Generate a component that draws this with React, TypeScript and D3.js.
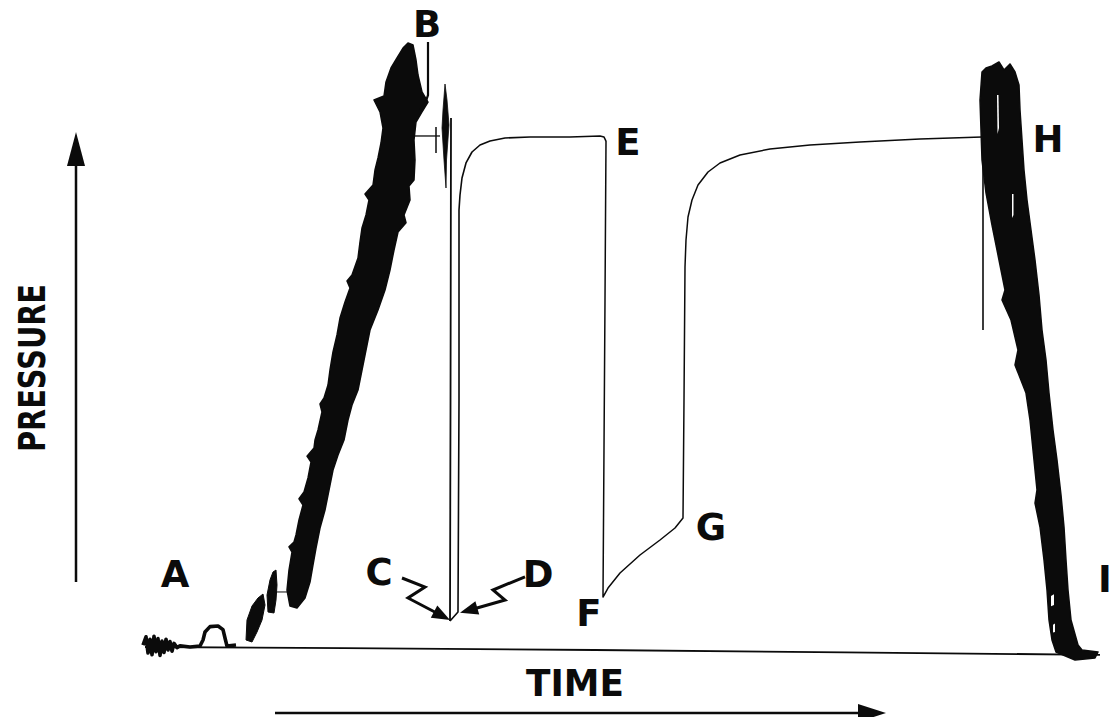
import React from "react";
import * as d3 from "d3";

type Pt = [number, number];

// Time axis in arbitrary units, pressure in percent of gauge full scale.
const zeroLine: Pt[] = [[0, 0.5], [20, 0.3], [45, 0], [70, -0.4], [95.5, -0.8]];

// Initial hydrostatic noise near A, including the small hump
const preTest: Pt[] = [
  [-0.2, 0.83], [0.1, 2.2], [0.3, -0.5], [0.5, 1.8], [0.7, -0.8], [0.9, 2.3], [1.1, -0.3], [1.3, 1.9],
  [1.5, -0.9], [1.7, 1.5], [1.9, -0.4], [2.1, 1.8], [2.3, 0], [2.5, 1.4], [2.7, -0.2], [2.9, 1.1],
  [3.2, 0.4], [3.5, 0.7], [4.5, 0.5], [5.5, 0.67], [5.8, 1.67], [6.0, 3.0], [6.5, 3.9], [7.3, 4.0],
  [7.8, 3.4], [8.0, 2.0], [8.2, 0.67], [9.1, 0.83],
];

// Scattered early run-in marks
const runInBlobA: Pt[] = [
  [12.3, 6.33], [12.2, 9.17], [12.5, 11.67], [12.8, 13.0], [13.1, 13.33], [13.2, 10.83], [13.1, 8.33], [12.9, 6.17],
];
const runInBlobB: Pt[] = [
  [10.1, 1.67], [10.2, 5.0], [10.7, 7.33], [11.3, 8.67], [11.8, 9.33], [12.0, 7.5], [11.7, 5.0], [11.2, 3.0], [10.7, 1.33],
];
const runInLink: Pt[] = [[13.2, 9.67], [14.3, 9.67]];

// Running-in build-up band A -> B (left edge upward, right edge downward)
const runInBand: Pt[] = [
  [14.5, 7.33], [14.2, 10.0], [14.4, 13.33], [14.7, 16.33], [14.4, 17.2], [14.9, 18.0], [15.1, 19.17],
  [15.4, 21.67], [15.8, 24.17], [15.4, 25.2], [15.9, 26.33], [16.3, 28.67], [16.6, 31.33], [16.2, 32.3],
  [16.9, 33.67], [17.0, 35.0], [17.3, 36.67], [17.7, 39.67], [17.5, 41.0], [17.9, 42.0], [18.3, 44.17],
  [18.5, 46.67], [18.8, 49.67], [19.2, 52.5], [19.5, 55.33], [20.0, 58.0], [20.5, 60.33], [20.2, 61.5],
  [20.7, 62.5], [21.3, 65.33], [21.5, 68.0], [21.7, 70.33], [22.1, 72.5], [22.4, 75.0], [22.0, 76.0],
  [22.8, 77.5], [23.0, 80.0], [23.3, 82.0], [23.6, 84.5], [23.8, 87.0], [23.5, 89.67], [22.9, 91.67],
  [23.9, 92.33], [24.1, 94.67], [24.6, 97.0], [25.2, 98.67], [25.8, 100.33], [26.3, 101.17],
  [26.8, 100.83], [27.1, 98.33], [27.3, 95.83], [27.7, 93.0], [28.3, 91.33], [27.7, 89.67], [27.1, 88.0],
  [26.9, 85.0], [27.0, 81.67], [26.9, 78.33], [26.4, 77.33], [26.5, 75.0], [25.9, 72.5], [26.1, 71.2],
  [25.3, 69.67], [24.9, 66.67], [24.5, 63.33], [24.0, 60.0], [23.3, 56.67], [22.5, 53.33], [22.1, 50.0],
  [21.7, 46.67], [21.3, 43.33], [20.7, 40.83], [20.3, 38.33], [19.9, 35.0], [19.3, 32.5], [18.8, 30.0],
  [18.4, 26.67], [18.0, 23.33], [17.5, 20.33], [17.1, 17.0], [16.8, 14.17], [16.5, 11.33], [16.0, 8.67],
  [15.2, 7.0],
];

// Thin spike and marks at the top of the build-up
const topSpike: Pt[] = [
  [30.0, 94.33], [29.8, 90.0], [29.7, 87.0], [29.9, 81.67], [30.1, 77.0], [30.15, 81.67], [30.4, 87.5], [30.2, 91.67],
];
const topTick: Pt[] = [[26.8, 85.67], [29.5, 85.67]];
const topTickBar: Pt[] = [[29.1, 87.17], [29.1, 82.83]];
const pointerB: Pt[] = [[28.3, 101.33], [28.3, 92.5], [28.0, 91.0], [27.5, 90.0]];

// B -> C: tool opened, pressure drop
const dropBC: Pt[] = [[30.6, 88.67], [30.55, 40], [30.5, 4.83]];

// C -> D -> E: first flow and initial shut-in build-up
const flowDE: Pt[] = [
  [30.5, 4.83], [31.3, 6.33], [31.4, 41.67], [31.4, 73.33], [31.5, 75.83], [31.7, 78.67], [32.1, 81.17],
  [32.7, 83.0], [33.5, 84.17], [34.5, 84.83], [36.0, 85.33], [38.5, 85.5], [42.5, 85.5], [45.5, 85.67],
  [45.9, 85.5], [46.1, 84.83],
];

// E -> F -> G -> H: second flow period and final shut-in
const flowFH: Pt[] = [
  [46.1, 84.83], [46.0, 58.33], [45.8, 8.83], [46.3, 10.33], [47.5, 12.83], [49.5, 15.83], [51.5, 18.33],
  [53.0, 20.33], [53.8, 22.0], [53.9, 41.67], [54.0, 63.83], [54.1, 68.33], [54.3, 72.17], [54.7, 75.0],
  [55.3, 77.5], [56.3, 79.67], [57.5, 81.17], [59.5, 82.5], [62.5, 83.5], [66.5, 84.17], [71.5, 84.67],
  [77.5, 85.17], [83.7, 85.5],
];
const dropH: Pt[] = [[83.8, 85.5], [83.8, 53.33]];

// Pulling out H -> I band
const pullOutBand: Pt[] = [
  [83.7, 96.33], [83.5, 91.67], [83.6, 86.67], [83.7, 81.67], [84.1, 76.17], [84.7, 70.83], [85.4, 65.0],
  [86.0, 60.0], [85.7, 58.33], [86.6, 55.0], [87.3, 50.0], [87.0, 47.5], [88.1, 42.83], [88.5, 38.33],
  [88.8, 33.33], [89.2, 26.67], [89.0, 24.5], [89.5, 20.5], [89.9, 15.0], [90.2, 10.0], [90.4, 5.0],
  [90.7, 1.67], [91.1, -0.33], [93.0, -1.67], [95.0, -1.33], [95.3, -0.33], [93.7, 0],
  [93.3, 0.83], [92.6, 5.0], [92.3, 10.0], [92.1, 15.0], [91.9, 20.5], [91.6, 25.83], [91.2, 31.67],
  [90.8, 36.67], [90.4, 42.83], [90.1, 48.33], [89.7, 53.33], [89.4, 59.17], [89.0, 65.0], [88.6, 70.0],
  [88.2, 75.0], [87.9, 80.0], [87.7, 85.0], [87.5, 90.0], [87.4, 94.17], [87.0, 96.33], [86.5, 97.67],
  [85.9, 96.67], [85.4, 98.0], [84.7, 97.33], [84.1, 97.0],
];
const pullOutGaps: Pt[][] = [
  [[85.2, 92.5], [85.35, 92.5], [85.4, 87.0], [85.25, 86.0]],
  [[86.7, 76.0], [86.85, 76.0], [86.85, 72.5], [86.7, 72.0]],
  [[90.6, 9.0], [90.9, 9.3], [90.9, 7.5], [90.6, 7.3]],
  [[90.8, 4.2], [91.0, 4.4], [91.0, 3.0], [90.8, 2.9]],
];

// Event letters placed at time / pressure coordinates
const eventLabels: { text: string; t: number; p: number; anchor: string }[] = [
  { text: "A", t: 3.0, p: 10.5, anchor: "middle" },
  { text: "B", t: 28.2, p: 102.2, anchor: "middle" },
  { text: "C", t: 23.4, p: 10.8, anchor: "middle" },
  { text: "D", t: 39.3, p: 10.5, anchor: "middle" },
  { text: "E", t: 48.3, p: 82.5, anchor: "middle" },
  { text: "F", t: 44.4, p: 4.0, anchor: "middle" },
  { text: "G", t: 56.6, p: 18.33, anchor: "middle" },
  { text: "H", t: 90.3, p: 83.0, anchor: "middle" },
  { text: "I", t: 95.3, p: 9.67, anchor: "start" },
];

// Zig-zag pointers from C and D to the bottom of the flow period
const pointerC: Pt[] = [[25.7, 12.0], [28.0, 10.5], [26.3, 8.67], [30.5, 5.0]];
const pointerD: Pt[] = [[38.0, 12.2], [34.8, 10.0], [36.0, 8.33], [31.5, 6.2]];

const x = d3.scaleLinear().domain([0, 96]).range([145, 1105]);
const y = d3.scaleLinear().domain([0, 100]).range([650, 50]);

const line = d3.line<Pt>().x((d) => x(d[0])).y((d) => y(d[1]));
const closed = d3.line<Pt>().x((d) => x(d[0])).y((d) => y(d[1])).curve(d3.curveLinearClosed);

function arrowHead(pts: Pt[], len: number, half: number) {
  const a = pts[pts.length - 2];
  const b = pts[pts.length - 1];
  const x1 = x(a[0]), y1 = y(a[1]), x2 = x(b[0]), y2 = y(b[1]);
  const dx = x2 - x1, dy = y2 - y1;
  const L = Math.hypot(dx, dy);
  const ux = dx / L, uy = dy / L;
  const bx = x2 - ux * len, by = y2 - uy * len;
  return `M${x2},${y2}L${bx - uy * half},${by + ux * half}L${bx + uy * half},${by - ux * half}Z`;
}

function shaft(pts: Pt[], len: number) {
  const c = pts.map((d) => [x(d[0]), y(d[1])] as [number, number]);
  const a = c[c.length - 2], b = c[c.length - 1];
  const dx = b[0] - a[0], dy = b[1] - a[1];
  const L = Math.hypot(dx, dy);
  c[c.length - 1] = [b[0] - (dx / L) * (len - 2), b[1] - (dy / L) * (len - 2)];
  return "M" + c.map((p) => p.join(",")).join("L");
}

const ink = "#0b0b0b";
const font = "'DejaVu Sans', 'Liberation Sans', sans-serif";

export default function App() {
  return (
    <svg width={1119} height={725} viewBox="0 0 1119 725" style={{ display: "block", background: "#fff", margin: "-8px" }}>
      <rect x={0} y={0} width={1119} height={725} fill="#fff" />

      {/* zero-pressure time line */}
      <path d={line(zeroLine) || ""} fill="none" stroke={ink} strokeWidth={1.8} />

      {/* pre-test trace */}
      <path d={line(preTest) || ""} fill="none" stroke={ink} strokeWidth={3.6} strokeLinejoin="round" />

      {/* running-in marks and band */}
      <path d={closed(runInBlobA) || ""} fill={ink} stroke={ink} strokeWidth={1} />
      <path d={closed(runInBlobB) || ""} fill={ink} stroke={ink} strokeWidth={1} />
      <path d={line(runInLink) || ""} fill="none" stroke={ink} strokeWidth={1} />
      <path d={closed(runInBand) || ""} fill={ink} stroke={ink} strokeWidth={1.5} strokeLinejoin="round" />

      <path d={closed(topSpike) || ""} fill={ink} stroke={ink} strokeWidth={0.8} />
      <path d={line(topTick) || ""} fill="none" stroke={ink} strokeWidth={1.3} />
      <path d={line(topTickBar) || ""} fill="none" stroke={ink} strokeWidth={1.5} />
      <path d={line(pointerB) || ""} fill="none" stroke={ink} strokeWidth={2.2} />

      {/* flow and shut-in periods */}
      <path d={line(dropBC) || ""} fill="none" stroke={ink} strokeWidth={1.8} />
      <path d={line(flowDE) || ""} fill="none" stroke={ink} strokeWidth={1.6} strokeLinejoin="round" />
      <path d={line(flowFH) || ""} fill="none" stroke={ink} strokeWidth={1.5} strokeLinejoin="round" />
      <path d={line(dropH) || ""} fill="none" stroke={ink} strokeWidth={1.6} />

      {/* pulling-out band */}
      <path d={closed(pullOutBand) || ""} fill={ink} stroke={ink} strokeWidth={1.5} strokeLinejoin="round" />
      {pullOutGaps.map((g, i) => (
        <path key={i} d={closed(g) || ""} fill="#fff" />
      ))}

      {/* C and D pointers */}
      {[pointerC, pointerD].map((p, i) => (
        <g key={i}>
          <path d={shaft(p, 16)} fill="none" stroke={ink} strokeWidth={3} strokeLinejoin="miter" />
          <path d={arrowHead(p, 18, 7)} fill={ink} />
        </g>
      ))}

      {/* event letters */}
      {eventLabels.map((l) => (
        <text
          key={l.text}
          x={x(l.t)}
          y={y(l.p)}
          textAnchor={l.anchor}
          fontFamily={font}
          fontWeight="bold"
          fontSize={37}
          fill={ink}
        >
          {l.text}
        </text>
      ))}

      {/* pressure axis arrow */}
      <line x1={76} y1={582} x2={76} y2={160} stroke={ink} strokeWidth={2.5} />
      <path d="M76,132L67,166L85,166Z" fill={ink} />
      <text
        transform="translate(45,368) rotate(-90)"
        textAnchor="middle"
        fontFamily={font}
        fontWeight="bold"
        fontSize={38}
        textLength={168}
        lengthAdjust="spacingAndGlyphs"
        fill={ink}
      >
        PRESSURE
      </text>

      {/* time axis arrow */}
      <line x1={275} y1={713} x2={862} y2={713} stroke={ink} strokeWidth={2.5} />
      <path d="M886,713L858,704L858,722Z" fill={ink} />
      <text
        x={575}
        y={696}
        textAnchor="middle"
        fontFamily={font}
        fontWeight="bold"
        fontSize={38}
        textLength={98}
        lengthAdjust="spacingAndGlyphs"
        fill={ink}
      >
        TIME
      </text>
    </svg>
  );
}
